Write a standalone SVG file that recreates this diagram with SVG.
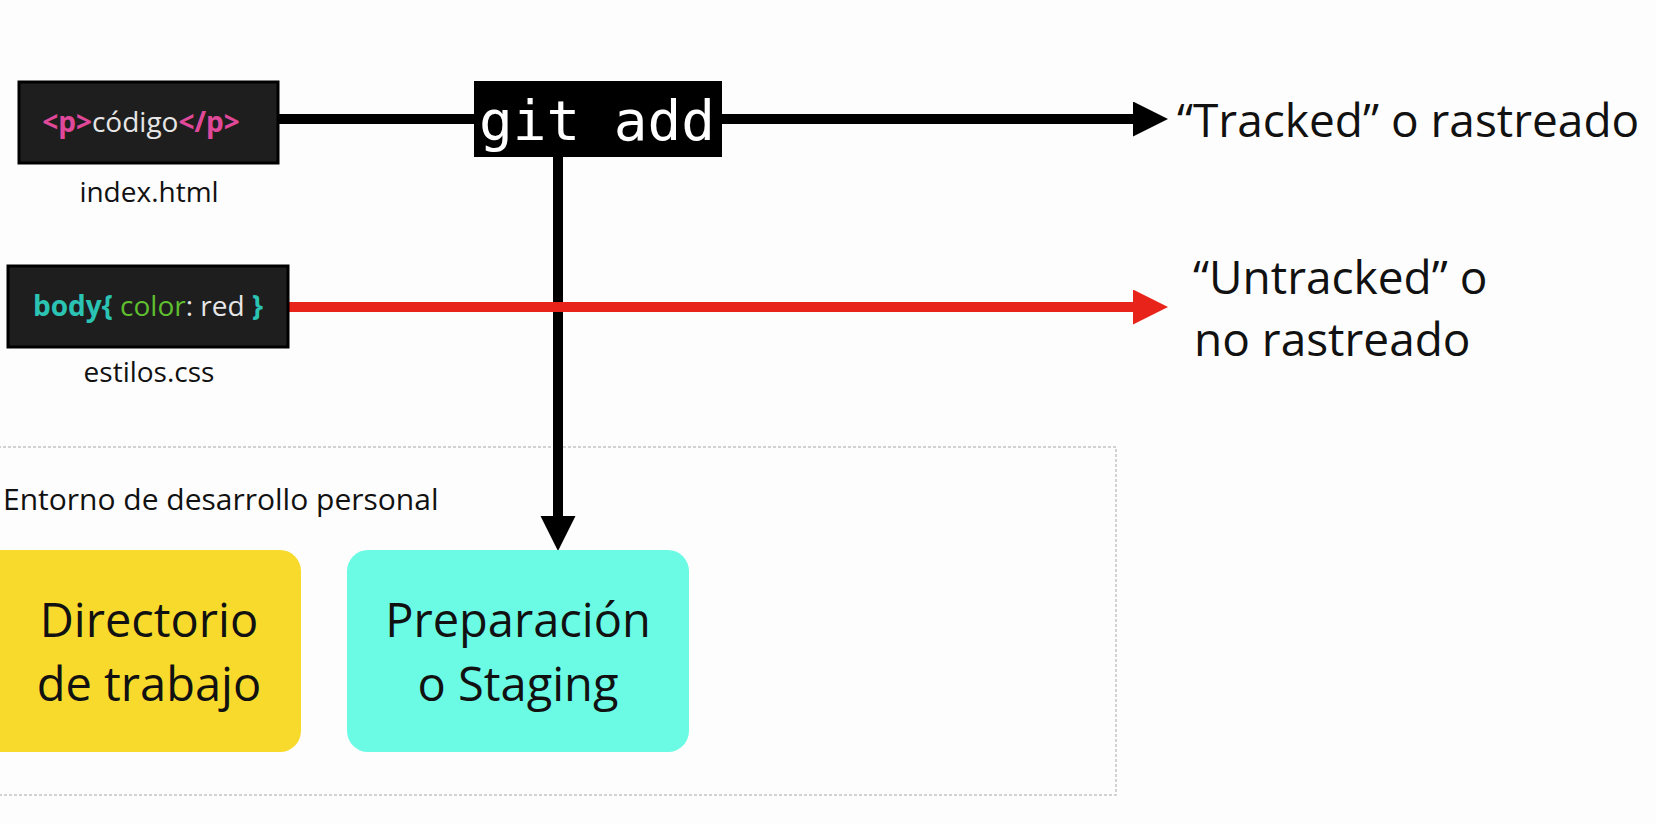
<svg xmlns="http://www.w3.org/2000/svg" width="1656" height="824" viewBox="0 0 1656 824">
  <style>
    text { font-family: "Open Sans", "Noto Sans", "DejaVu Sans", sans-serif; }
    .file { fill: #1e1e1e; stroke: #000; stroke-width: 3; }
    .lbl { font-size: 28px; fill: #111; text-anchor: middle; }
    .big { font-size: 47px; fill: #111; text-anchor: middle; }
    .out { font-size: 46px; fill: #111; }
    .code { font-size: 28px; }
    .b { font-weight: bold; }
  </style>
  <defs>
    <marker id="ahBlack" markerUnits="userSpaceOnUse" markerWidth="36" markerHeight="36" refX="0" refY="17.5" orient="auto">
      <path d="M0,0 L35,17.5 L0,35 Z" fill="#000"/>
    </marker>
    <marker id="ahRed" markerUnits="userSpaceOnUse" markerWidth="36" markerHeight="36" refX="0" refY="17.5" orient="auto">
      <path d="M0,0 L35,17.5 L0,35 Z" fill="#e8231a"/>
    </marker>
  </defs>
  <rect width="1656" height="824" fill="#fdfdfd"/>

  <g id="container">
    <rect x="-2" y="447" width="1118" height="348" fill="none" stroke="#c4c4c4" stroke-width="1.5" stroke-dasharray="3 2"/>
    <text x="3" y="510" font-size="30" fill="#111">Entorno de desarrollo personal</text>
  </g>

  <g id="connectors">
    <line x1="279" y1="119" x2="474" y2="119" stroke="#000" stroke-width="10"/>
    <line x1="722" y1="119" x2="1133" y2="119" stroke="#000" stroke-width="10" marker-end="url(#ahBlack)"/>
    <line x1="558" y1="157" x2="558" y2="516" stroke="#000" stroke-width="10" marker-end="url(#ahBlack)"/>
    <line x1="289" y1="307" x2="1133" y2="307" stroke="#e8231a" stroke-width="10" marker-end="url(#ahRed)"/>
  </g>

  <g id="index-html">
    <rect class="file" x="19" y="82" width="259" height="81"/>
    <text x="141" y="132" class="code" text-anchor="middle"><tspan class="b" fill="#e0489a">&lt;p&gt;</tspan><tspan fill="#e6e6e6">código</tspan><tspan class="b" fill="#e0489a">&lt;/p&gt;</tspan></text>
    <text x="149" y="202" class="lbl">index.html</text>
  </g>

  <g id="estilos-css">
    <rect class="file" x="8" y="266" width="280" height="81"/>
    <text x="148" y="316" class="code" text-anchor="middle"><tspan class="b" fill="#2bc4b4">body{ </tspan><tspan fill="#5fbf2f">color</tspan><tspan fill="#e6e6e6">: red </tspan><tspan class="b" fill="#2bc4b4">}</tspan></text>
    <text x="149" y="382" class="lbl">estilos.css</text>
  </g>

  <g id="git-add">
    <rect x="474" y="81" width="248" height="76" fill="#000"/>
    <text x="597" y="140" font-size="56" fill="#fff" text-anchor="middle" style="font-family:'DejaVu Sans Mono', monospace">git add</text>
  </g>

  <g id="tracked">
    <text x="1177" y="137" class="out">“Tracked” o rastreado</text>
  </g>

  <g id="untracked">
    <text x="1193" y="294" class="out">“Untracked” o</text>
    <text x="1194" y="356" class="out">no rastreado</text>
  </g>

  <g id="directorio">
    <rect x="-20" y="550" width="321" height="202" rx="21" fill="#f8da2c"/>
    <text x="149" y="637" class="big">Directorio</text>
    <text x="149" y="701" class="big">de trabajo</text>
  </g>

  <g id="staging">
    <rect x="347" y="550" width="342" height="202" rx="21" fill="#6bfbe4"/>
    <text x="518" y="637" class="big">Preparación</text>
    <text x="518" y="701" class="big">o Staging</text>
  </g>
</svg>
